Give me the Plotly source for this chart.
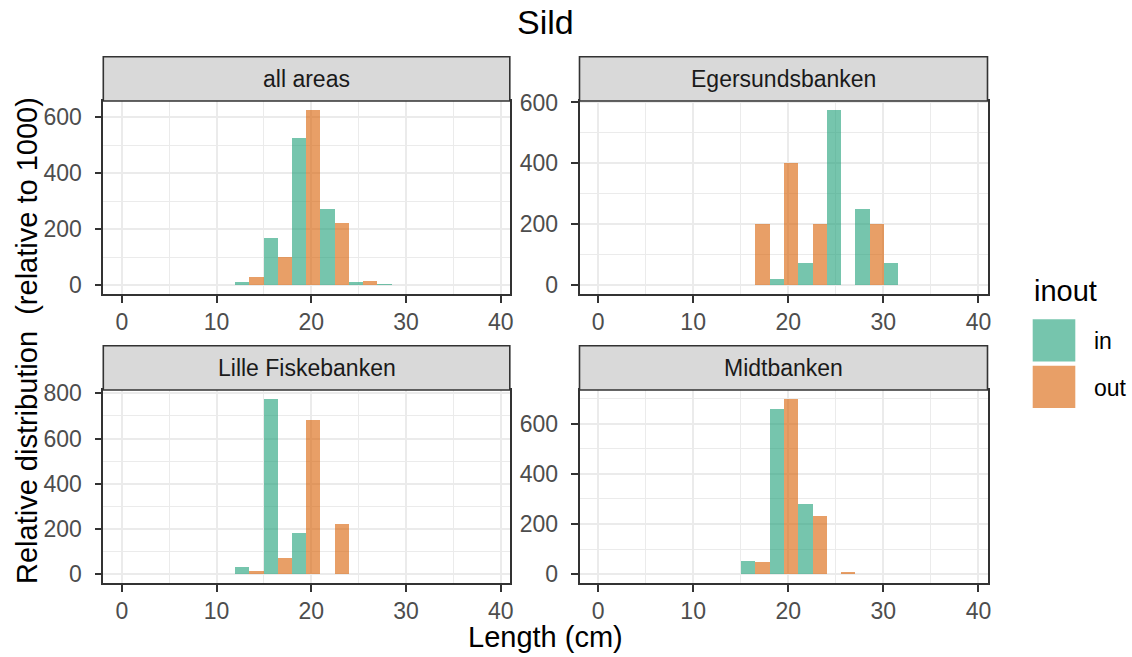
import plotly.graph_objects as go

W, H = 1132, 657

# ---------------- data ----------------
bin_starts = [0, 3, 6, 9, 12, 15, 18, 21, 24, 27, 30, 33, 36]
bin_width = 3
areas = ["all areas", "Egersundsbanken", "Lille Fiskebanken", "Midtbanken"]
groups = ["in", "out"]

all_areas_in = [0, 0, 0, 0, 13, 167, 525, 271, 11, 5, 0, 0, 0]
all_areas_out = [0, 0, 0, 0, 31, 101, 626, 223, 15, 0, 0, 0, 0]
egersund_in = [0, 0, 0, 0, 0, 0, 22, 74, 576, 250, 74, 0, 0]
egersund_out = [0, 0, 0, 0, 0, 200, 400, 200, 0, 200, 0, 0, 0]
lille_in = [0, 0, 0, 0, 33, 776, 184, 0, 0, 0, 0, 0, 0]
lille_out = [0, 0, 0, 0, 15, 70, 682, 220, 0, 0, 0, 0, 0]
midt_in = [0, 0, 0, 0, 0, 52, 657, 281, 0, 0, 0, 0, 0]
midt_out = [0, 0, 0, 0, 0, 47, 699, 231, 8, 0, 0, 0, 0]

series = {
    "all areas": (all_areas_in, all_areas_out),
    "Egersundsbanken": (egersund_in, egersund_out),
    "Lille Fiskebanken": (lille_in, lille_out),
    "Midtbanken": (midt_in, midt_out),
}

x_ticks = [0, 10, 20, 30, 40]
x_minor_ticks = [5, 15, 25, 35]

title = "Sild"
x_title = "Length (cm)"
y_title = "Relative distribution  (relative to 1000)"
legend_title = "inout"

# ---------------- styling ----------------
FONT = "Liberation Sans, Arial, sans-serif"
fill = {"in": "rgba(27,158,119,0.6)", "out": "rgba(217,95,2,0.6)"}

# panel rectangles in pixels: (left, right, top, bottom)
panels = [
    (103.3, 509.8, 101, 294),
    (579.5, 987.5, 101, 294),
    (103.3, 509.8, 390, 583),
    (579.5, 987.5, 390, 583),
]
STRIP_H = 44.3


def px(x):
    return x / W


def py(y):
    return 1 - y / H


centers = [b + bin_width / 2 for b in bin_starts]
xmin, xmax = bin_starts[0], bin_starts[-1] + bin_width
xpad = 0.05 * (xmax - xmin)

fig = go.Figure()
shapes = []
annotations = []

for i, area in enumerate(areas):
    n = "" if i == 0 else str(i + 1)
    xa, ya = "x" + n, "y" + n
    vin, vout = series[area]
    for g, vals in zip(groups, (vin, vout)):
        fig.add_trace(go.Bar(
            x=centers, y=vals, name=g, xaxis=xa, yaxis=ya,
            marker=dict(color=fill[g], line=dict(width=0)),
            showlegend=False, hoverinfo="x+y+name",
        ))
    vmax = max(max(vin), max(vout))
    l, r, t, b = panels[i]
    ydt = 200
    fig.layout["xaxis" + n] = dict(
        domain=[px(l), px(r)], anchor=ya, automargin=False,
        range=[xmin - xpad, xmax + xpad],
        tickmode="array", tickvals=x_ticks,
        showgrid=True, gridcolor="#EBEBEB", gridwidth=1.8,
        minor=dict(tickmode="array", tickvals=x_minor_ticks, showgrid=True,
                   gridcolor="#EBEBEB", gridwidth=0.9, ticks=""),
        zeroline=False, showline=True, mirror=True,
        linecolor="#333333", linewidth=1.6,
        ticks="outside", ticklen=7, tickwidth=1.8, tickcolor="#333333",
        tickfont=dict(family=FONT, size=23, color="#4D4D4D"),
        ticklabelstandoff=0,
    )
    fig.layout["yaxis" + n] = dict(
        domain=[py(b), py(t)], anchor=xa, automargin=False,
        range=[-0.05 * vmax, 1.05 * vmax],
        tick0=0, dtick=ydt,
        showgrid=True, gridcolor="#EBEBEB", gridwidth=1.8,
        minor=dict(tick0=0, dtick=ydt / 2, showgrid=True,
                   gridcolor="#EBEBEB", gridwidth=0.9, ticks=""),
        zeroline=False, showline=True, mirror=True,
        linecolor="#333333", linewidth=1.6,
        ticks="outside", ticklen=7, tickwidth=1.8, tickcolor="#333333",
        tickfont=dict(family=FONT, size=23, color="#4D4D4D"),
        ticklabelstandoff=8,
    )
    # strip
    shapes.append(dict(type="rect", xref="paper", yref="paper",
                       x0=px(l), x1=px(r), y0=py(t), y1=py(t - STRIP_H),
                       fillcolor="#D9D9D9", line=dict(color="#333333", width=1.6),
                       layer="above"))
    annotations.append(dict(text=area, xref="paper", yref="paper",
                            x=px((l + r) / 2), y=py(t - STRIP_H / 2),
                            xanchor="center", yanchor="middle", showarrow=False,
                            font=dict(family=FONT, size=23, color="#1A1A1A")))

# titles
annotations.append(dict(text=title, xref="paper", yref="paper",
                        x=px(545), y=py(22), xanchor="center", yanchor="middle",
                        showarrow=False, font=dict(family=FONT, size=34, color="black")))
annotations.append(dict(text=x_title, xref="paper", yref="paper",
                        x=px(545), y=py(637), xanchor="center", yanchor="middle",
                        showarrow=False, font=dict(family=FONT, size=29, color="black")))
annotations.append(dict(text=y_title, xref="paper", yref="paper",
                        x=px(27), y=py(341), xanchor="center", yanchor="middle",
                        textangle=-90, showarrow=False,
                        font=dict(family=FONT, size=29, color="black")))

# legend (manual)
annotations.append(dict(text=legend_title, xref="paper", yref="paper",
                        x=px(1031.5), y=py(291), xanchor="left", yanchor="middle",
                        showarrow=False, font=dict(family=FONT, size=29, color="black")))
key_tops = [319.3, 365.7]
for g, kt in zip(groups, key_tops):
    shapes.append(dict(type="rect", xref="paper", yref="paper",
                       x0=px(1032.7), x1=px(1075.3), y0=py(kt + 42.2), y1=py(kt),
                       fillcolor=fill[g], line=dict(width=0)))
    annotations.append(dict(text=g, xref="paper", yref="paper",
                            x=px(1091.5), y=py(kt + 22), xanchor="left", yanchor="middle",
                            showarrow=False, font=dict(family=FONT, size=23, color="black")))

fig.update_layout(
    template="none",
    width=W, height=H, autosize=False,
    margin=dict(l=0, r=0, t=0, b=0, pad=0, autoexpand=False),
    paper_bgcolor="white", plot_bgcolor="white",
    barmode="group", bargap=0, bargroupgap=0,
    showlegend=False,
    shapes=shapes, annotations=annotations,
)

fig.write_html(
    "out.html",
    config={"displayModeBar": False},
    post_script="document.body.style.margin='0';document.body.style.padding='0';document.body.style.overflow='hidden';",
)
